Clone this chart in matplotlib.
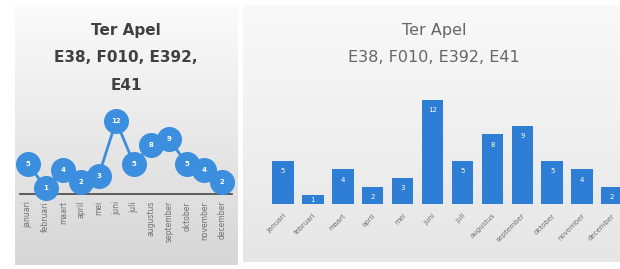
import numpy as np
import matplotlib
matplotlib.use("Agg")
import matplotlib.pyplot as plt

months = ["januari", "februari", "maart", "april", "mei", "juni", "juli",
          "augustus", "september", "oktober", "november", "december"]
values = [5, 1, 4, 2, 3, 12, 5, 8, 9, 5, 4, 2]
title_line1 = "Ter Apel"
title_line2 = "E38, F010, E392, E41"

W, H = 620, 269
fig = plt.figure(figsize=(W / 100, H / 100), dpi=100)
fig.patch.set_facecolor("white")

def fx(px):
    return px / W

def fy(py):
    return 1 - py / H

def panel(x0, y0, x1, y1, ctop, cbot):
    ax = fig.add_axes([fx(x0), fy(y1), fx(x1 - x0), (y1 - y0) / H], zorder=0)
    t = np.linspace(0, 1, 256)[:, None]
    ct = np.array(matplotlib.colors.to_rgb(ctop))
    cb = np.array(matplotlib.colors.to_rgb(cbot))
    img = ct[None, None, :] * (1 - t[:, :, None]) + cb[None, None, :] * t[:, :, None]
    ax.imshow(img, aspect="auto", extent=[0, 1, 0, 1])
    ax.set_axis_off()
    return ax

panel(15, 5, 238, 265, "#fbfbfb", "#d6d6d6")
panel(243, 5, 620, 262, "#f9f9f9", "#e6e6e6")

x = np.arange(len(months))

# Left: line chart
lx0, lx1 = 28, 222
sc = (lx1 - lx0) / 11
axL = fig.add_axes([fx(20), fy(194), fx(212), 85 / H], zorder=2)
axL.set_xlim(-(lx0 - 20) / sc, 11 + (232 - lx1) / sc)
axL.set_ylim(0, 14)
axL.patch.set_alpha(0)
axL.plot(x, values, color="#3b8fde", lw=2, marker="o", ms=17,
         mfc="#3b8fde", mec="#3b8fde", clip_on=False, zorder=3)
for xi, v in zip(x, values):
    axL.text(xi, v, str(v), color="white", fontsize=5, fontweight="bold",
             ha="center", va="center", zorder=4, clip_on=False)
for s in ["top", "right", "left"]:
    axL.spines[s].set_visible(False)
axL.spines["bottom"].set_color("#444444")
axL.spines["bottom"].set_linewidth(1.2)
axL.set_yticks([])
axL.set_xticks(x)
axL.set_xticklabels(months, rotation=90, fontsize=5.5, color="#707070", va="top")
axL.tick_params(axis="x", length=0, pad=5)

fig.text(fx(126), fy(30), title_line1, ha="center", va="center",
         fontsize=11, fontweight="bold", color="#404040")
fig.text(fx(126), fy(57), "E38, F010, E392,", ha="center", va="center",
         fontsize=11, fontweight="bold", color="#404040")
fig.text(fx(126), fy(85), "E41", ha="center", va="center",
         fontsize=11, fontweight="bold", color="#404040")

# Right: bar chart
bx0, bx1 = 283, 612
bs = (bx1 - bx0) / 11
axR = fig.add_axes([fx(265), fy(204), fx(620 - 265), (204 - 91) / H], zorder=2)
axR.set_xlim(-(bx0 - 265) / bs, 11 + (620 - bx1) / bs)
axR.set_ylim(0, 13)
axR.patch.set_alpha(0)
bars = axR.bar(x, values, width=0.72, color="#2f7ed5", zorder=3)
for xi, v in zip(x, values):
    axR.text(xi, v - 1.2 if v > 1 else v / 2, str(v), color="white", fontsize=5,
             ha="center", va="center", zorder=4)
for s in axR.spines.values():
    s.set_visible(False)
axR.set_yticks([])
axR.set_xticks(x)
axR.set_xticklabels(months, rotation=45, fontsize=5, color="#707070",
                    ha="right", rotation_mode="anchor")
axR.tick_params(axis="x", length=0, pad=6)

fig.text(fx(434), fy(30), title_line1, ha="center", va="center",
         fontsize=11.5, color="#666666")
fig.text(fx(434), fy(57), title_line2, ha="center", va="center",
         fontsize=11.5, color="#666666")

fig.savefig("out.png", dpi=100)
